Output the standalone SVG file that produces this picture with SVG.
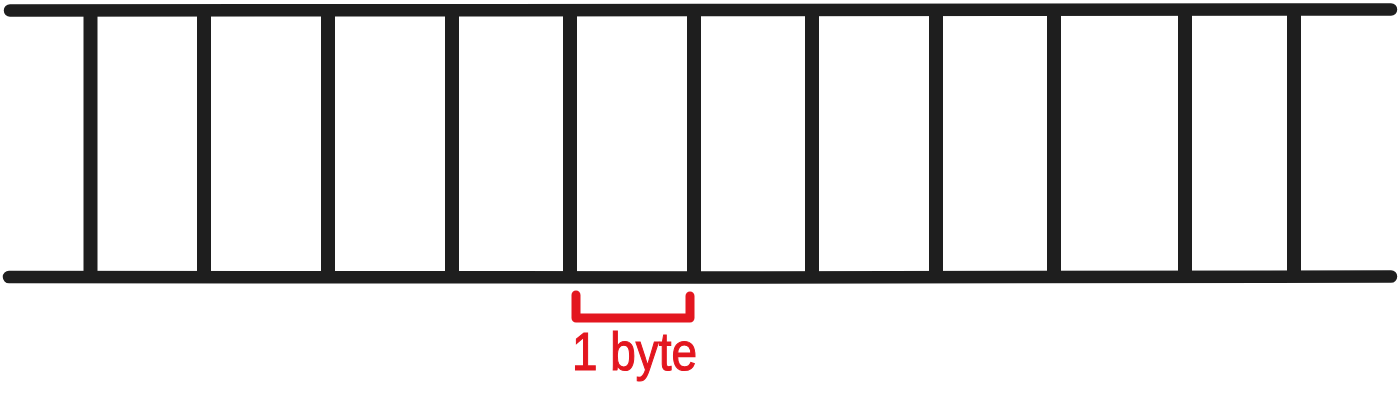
<svg xmlns="http://www.w3.org/2000/svg" width="1400" height="403" viewBox="0 0 1400 403">
<style>
.rail{stroke:#1e1e1e;stroke-width:12.5;stroke-linecap:round;fill:none}
.rung{stroke:#1e1e1e;stroke-width:14;stroke-linecap:butt;fill:none}
.red{stroke:#e3161f;stroke-width:9;stroke-linecap:round;stroke-linejoin:round;fill:none}
.lbl{fill:#e3161f;stroke:#e3161f;stroke-width:1.2;font-family:"Liberation Sans",Arial,sans-serif;font-size:54px}
</style>
<rect width="1400" height="403" fill="#ffffff"/>
<g id="connectors">
<path class="rail" d="M10 10.5 L700 10 L1391 9.5"/>
<path class="rail" d="M9 277 L700 277.5 L1391 276.5"/>
</g>
<g id="rungs">
<line class="rung" x1="90.5" y1="12" x2="90.5" y2="275"/>
<line class="rung" x1="204" y1="12" x2="204" y2="275"/>
<line class="rung" x1="328" y1="12" x2="328" y2="275"/>
<line class="rung" x1="452" y1="12" x2="452" y2="275"/>
<line class="rung" x1="570" y1="12" x2="570" y2="275"/>
<line class="rung" x1="694" y1="12" x2="694" y2="275"/>
<line class="rung" x1="812" y1="12" x2="812" y2="275"/>
<line class="rung" x1="936" y1="12" x2="936" y2="275"/>
<line class="rung" x1="1054" y1="12" x2="1054" y2="275"/>
<line class="rung" x1="1185" y1="12" x2="1185" y2="275"/>
<line class="rung" x1="1294" y1="12" x2="1294" y2="275"/>
</g>
<g id="byte-label">
<path class="red" d="M576 295 L576 318 L690 318 L690 296"/>
<text class="lbl" x="572" y="370" textLength="125" lengthAdjust="spacingAndGlyphs">1 byte</text>
</g>
</svg>
